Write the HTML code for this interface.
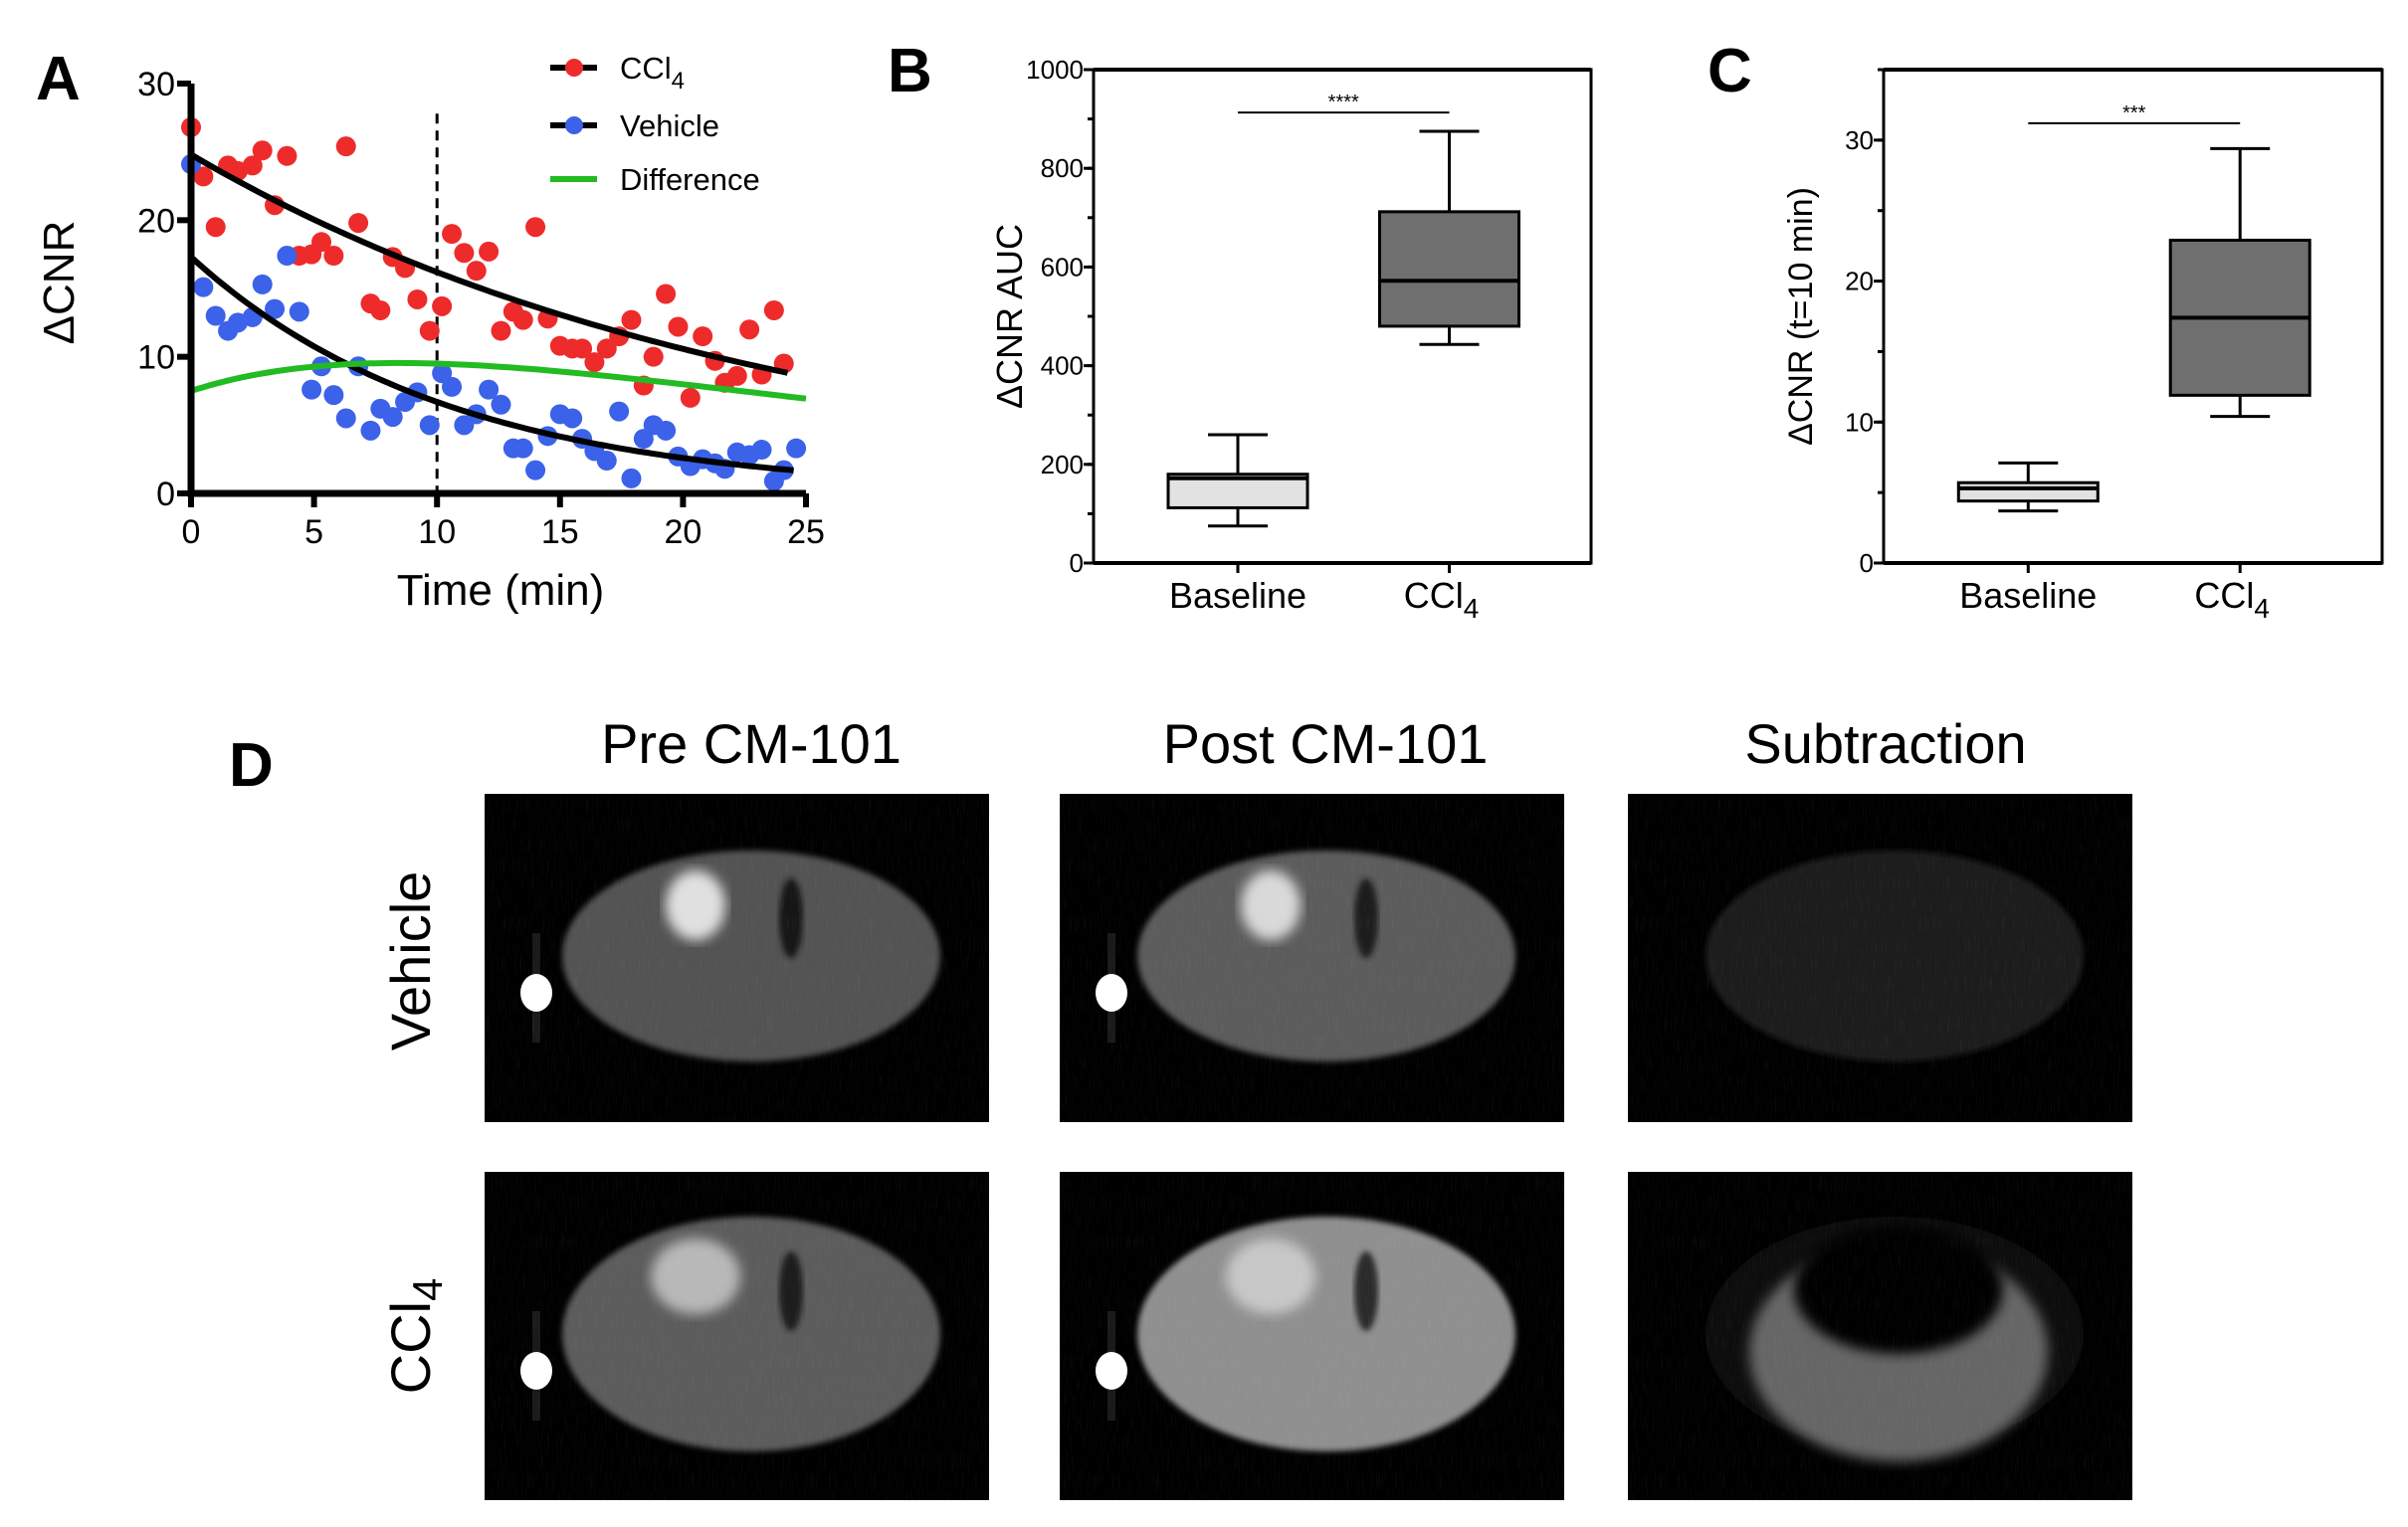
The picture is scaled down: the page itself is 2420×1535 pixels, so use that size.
<!DOCTYPE html>
<html><head><meta charset="utf-8">
<style>
html,body{margin:0;padding:0;background:#fff;}
svg{display:block;font-family:"Liberation Sans",Arial,sans-serif;}
</style></head>
<body>
<svg id="fig" width="2420" height="1535" viewBox="0 0 2420 1535" xmlns="http://www.w3.org/2000/svg">
<defs>
<filter id="blur6"><feGaussianBlur stdDeviation="6"/></filter>
<filter id="blur3"><feGaussianBlur stdDeviation="3"/></filter>
<filter id="noise" x="0" y="0" width="100%" height="100%">
<feTurbulence type="fractalNoise" baseFrequency="0.9 0.05" numOctaves="2" seed="3"/>
<feColorMatrix type="matrix" values="0 0 0 0 1  0 0 0 0 1  0 0 0 0 1  0 0 0 0.5 -0.25"/>
</filter>
</defs>
<g id="panelA"></g>
<g id="panelB"></g>
<g id="panelC"></g>
<g id="panelD"></g>
</svg>
<script>
// ---- Panel A data ----
const timesRed = [0,0.5,1,1.5,1.9,2.5,2.9,3.4,3.9,4.4,4.9,5.3,5.8,6.3,6.8,7.3,7.7,8.2,8.7,9.2,9.7,10.2,10.6,11.1,11.6,12.1,12.6,13.1,13.5,14.0,14.5,15.0,15.5,15.9,16.4,16.9,17.4,17.9,18.4,18.8,19.3,19.8,20.3,20.8,21.3,21.7,22.2,22.7,23.2,23.7,24.1];
const valuesRed = [26.8,23.2,19.5,24.0,23.6,24.0,25.1,21.1,24.7,17.4,17.5,18.4,17.4,25.4,19.8,13.9,13.4,17.3,16.5,14.2,11.9,13.7,19.0,17.6,16.3,17.7,11.9,13.3,12.7,19.5,12.8,10.8,10.6,10.6,9.6,10.6,11.5,12.7,7.9,10.0,14.6,12.2,7.0,11.5,9.7,8.1,8.6,12.0,8.7,13.4,9.5];
const timesBlue = [0,0.5,1,1.5,1.9,2.5,2.9,3.4,3.9,4.4,4.9,5.3,5.8,6.3,6.8,7.3,7.7,8.2,8.7,9.2,9.7,10.2,10.6,11.1,11.6,12.1,12.6,13.1,13.5,14.0,14.5,15.0,15.5,15.9,16.4,16.9,17.4,17.9,18.4,18.8,19.3,19.8,20.3,20.8,21.3,21.7,22.2,22.7,23.2,23.7,24.1,24.6];
const valuesBlue = [24.1,15.1,13.0,11.9,12.5,12.9,15.3,13.5,17.4,13.3,7.6,9.3,7.2,5.5,9.3,4.6,6.2,5.6,6.7,7.4,5.0,8.8,7.8,5.0,5.8,7.6,6.5,3.3,3.3,1.7,4.2,5.8,5.5,4.0,3.1,2.4,6.0,1.1,4.0,5.0,4.6,2.7,2.0,2.5,2.2,1.8,3.0,2.8,3.2,0.9,1.7,3.3];
const fitAmp = [24.8, 17.3];      // CCl4, Vehicle
const fitRate = [0.0426, 0.0949];
const fitEnd = [24.4, 24.5];
const xTicksA = [0,5,10,15,20,25];
const yTicksA = [0,10,20,30];
const dashedT = [10];

// ---- Panel B data ----
const catsB = ["Baseline","CCl4"];
const whiskLoB = [75, 443], q1B = [112, 480], medB = [172, 572], q3B = [180, 712], whiskHiB = [260, 875];
const yTicksB = [0,200,400,600,800,1000];
const sigB = [913];
// ---- Panel C data ----
const whiskLoC = [3.7, 10.4], q1C = [4.4, 11.9], medC = [5.3, 17.4], q3C = [5.7, 22.9], whiskHiC = [7.1, 29.4];
const yTicksC = [0,10,20,30];
const sigC = [31.2];

const NS = "http://www.w3.org/2000/svg";
function mk(parent, tag, attrs, text){
  const e = document.createElementNS(NS, tag);
  for (const k in attrs) e.setAttribute(k, attrs[k]);
  if (text !== undefined) e.textContent = text;
  parent.appendChild(e); return e;
}

// ===== Panel A =====
(function(){
  const g = document.getElementById('panelA');
  const X = t => 192 + t/25*(810-192);
  const Y = v => 496 - v/30*(496-84);
  let d = mk(g,'line',{x1:X(dashedT[0]),x2:X(dashedT[0]),y1:Y(27.8),y2:Y(0),stroke:'#000','stroke-width':3,'stroke-dasharray':'10,7'});
  
  
  const fit = (i,t) => fitAmp[i]*Math.exp(-fitRate[i]*t);
  function curve(fn, t1, color, name){
    let p = '';
    for (let t=0; t<=t1+1e-9; t+=0.25){ p += (p?'L':'M') + X(t).toFixed(1)+','+Y(fn(t)).toFixed(1); }
    const e = mk(g,'path',{d:p,fill:'none',stroke:color,'stroke-width':6});
    
    
    return e;
  }
  const rp = mk(g,'g',{});
  
  
  timesRed.forEach((t,i)=>{
    const c = mk(rp,'circle',{cx:X(t),cy:Y(valuesRed[i]),r:10,fill:'#ee2b2b'});
    
    
  });
  const bp = mk(g,'g',{});
  
  
  timesBlue.forEach((t,i)=>{
    const c = mk(bp,'circle',{cx:X(t),cy:Y(valuesBlue[i]),r:10,fill:'#3b62e8'});
    
    
  });
  curve(t=>fit(0,t), fitEnd[0], '#000', 'ccl4-fit-curve');
  curve(t=>fit(1,t), fitEnd[1], '#000', 'vehicle-fit-curve');
  curve(t=>fit(0,t)-fit(1,t), 25, '#22bb22', 'difference-curve');
  let ax = mk(g,'path',{d:`M${X(0)},${Y(30)}V${Y(0)}H${X(25)}`,fill:'none',stroke:'#000','stroke-width':7});
  
  
  yTicksA.forEach(v=>{
    mk(g,'line',{x1:X(0)-14,x2:X(0),y1:Y(v),y2:Y(v),stroke:'#000','stroke-width':6});
    const t = mk(g,'text',{x:X(0)-16,y:Y(v)+12,'font-size':34,'text-anchor':'end'},String(v));
    
    
  });
  xTicksA.forEach(v=>{
    mk(g,'line',{x1:X(v),x2:X(v),y1:Y(0),y2:Y(0)+14,stroke:'#000','stroke-width':6});
    const t = mk(g,'text',{x:X(v),y:Y(0)+50,'font-size':34,'text-anchor':'middle'},String(v));
    
    
  });
})();
</script>
<script>
// ===== Panels B and C =====
function boxPanel(gid, x0, x1, y0, y1, ymax, ticks, minorStep, lo,q1,med,q3,hi, sig, stars, yTitle, fs){
  const g = document.getElementById(gid);
  const Y = v => y1 - v/ymax*(y1-y0);
  const cx = [x0 + (x1-x0)*0.29, x0 + (x1-x0)*0.715];
  const fills = ['#e2e2e2','#6f6f6f'];
  mk(g,'rect',{x:x0,y:y0,width:x1-x0,height:y1-y0,fill:'none',stroke:'#000','stroke-width':3});
  mk(g,'line',{x1:x0,x2:x1,y1:y0,y2:y0,stroke:'#000','stroke-width':4});
  mk(g,'line',{x1:x0,x2:x1,y1:y1,y2:y1,stroke:'#000','stroke-width':4});
  for (let v=0; v<=ymax+1e-9; v+=minorStep){
    mk(g,'line',{x1:x0-6,x2:x0,y1:Y(v),y2:Y(v),stroke:'#000','stroke-width':3});
  }
  ticks.forEach(v=>{
    mk(g,'line',{x1:x0-10,x2:x0,y1:Y(v),y2:Y(v),stroke:'#000','stroke-width':3});
    const t = mk(g,'text',{x:x0-10,y:Y(v)+9,'font-size':26,'text-anchor':'end'},String(v));
    
    
  });
  [0,1].forEach(i=>{
    const c = cx[i], hw = 70;
    mk(g,'line',{x1:c,x2:c,y1:Y(hi[i]),y2:Y(lo[i]),stroke:'#000','stroke-width':3});
    mk(g,'line',{x1:c-30,x2:c+30,y1:Y(hi[i]),y2:Y(hi[i]),stroke:'#000','stroke-width':3});
    mk(g,'line',{x1:c-30,x2:c+30,y1:Y(lo[i]),y2:Y(lo[i]),stroke:'#000','stroke-width':3});
    const r = mk(g,'rect',{x:c-hw,y:Y(q3[i]),width:2*hw,height:Y(q1[i])-Y(q3[i]),fill:fills[i],stroke:'#000','stroke-width':3});
    
    
    mk(g,'line',{x1:c-hw,x2:c+hw,y1:Y(med[i]),y2:Y(med[i]),stroke:'#000','stroke-width':4});
    mk(g,'line',{x1:c,x2:c,y1:y1,y2:y1+10,stroke:'#000','stroke-width':3});
  });
  const t1 = mk(g,'text',{x:cx[0],y:y1+45,'font-size':36,'text-anchor':'middle'},'Baseline');
  
  
  const t2 = mk(g,'text',{x:cx[1]-8,y:y1+45,'font-size':36,'text-anchor':'middle'});
  
  
  t2.innerHTML = 'CCl<tspan dy="10" font-size="28">4</tspan>';
  const s = mk(g,'line',{x1:cx[0],x2:cx[1],y1:Y(sig[0]),y2:Y(sig[0]),stroke:'#000','stroke-width':2});
  
  
  mk(g,'text',{x:(cx[0]+cx[1])/2,y:Y(sig[0])-4,'font-size':20,'text-anchor':'middle'},stars);
  const yt = mk(g,'text',{x:0,y:0,'font-size':fs,'text-anchor':'middle',transform:`translate(${x0-72},${(y0+y1)/2}) rotate(-90)`},yTitle);
  
  
}
boxPanel('panelB',1099,1599,70,566,1000,yTicksB,100,whiskLoB,q1B,medB,q3B,whiskHiB,sigB,'****','ΔCNR AUC',36);
boxPanel('panelC',1893,2394,70,566,35,yTicksC,5,whiskLoC,q1C,medC,q3C,whiskHiC,sigC,'***','ΔCNR (t=10 min)',34);

// ===== Panel D images =====
(function(){
  const g = document.getElementById('panelD');
  const cols = [487,1065,1636], rows = [798,1178], W = 507, H = 330;
  const cfg = [
    [[0.32,0.88,1],[0.36,0.85,1],[0.11,0,0]],
    [[0.36,0.72,1],[0.56,0.78,1],[0.06,0,0]]
  ];
  rows.forEach((ry,ri)=>cols.forEach((cxp,ci)=>{
    const im = mk(g,'g',{});
    
    
    mk(im,'rect',{x:cxp,y:ry,width:W,height:H,fill:'#000'});
    const [b,sp,mark] = cfg[ri][ci];
    const gv = v => { const c = Math.round(255*Math.min(1,v)); return `rgb(${c},${c},${c})`; };
    const ex = cxp+268, ey = ry+163;
    if (ri===1 && ci===2){
      mk(im,'ellipse',{cx:ex,cy:ey,rx:190,ry:118,fill:gv(0.06),filter:'url(#blur6)'});
      mk(im,'ellipse',{cx:ex+4,cy:ey+18,rx:150,ry:110,fill:gv(0.4),filter:'url(#blur6)'});
      mk(im,'ellipse',{cx:ex+4,cy:ey-45,rx:105,ry:65,fill:'#000',filter:'url(#blur6)'});
    } else {
      mk(im,'ellipse',{cx:ex,cy:ey,rx:190,ry:ri?118:106,fill:gv(b),filter:'url(#blur3)'});
      if (sp>0){
        mk(im,'ellipse',{cx:cxp+212,cy:ry+(ri?105:112),rx:ri?45:30,ry:ri?38:35,fill:gv(sp),filter:'url(#blur6)'});
        mk(im,'ellipse',{cx:cxp+308,cy:ry+(ri?120:125),rx:12,ry:40,fill:gv(b*0.3),filter:'url(#blur3)'});
      }
    }
    if (mark){
      mk(im,'rect',{x:cxp+48,y:ry+140,width:8,height:110,fill:'#1a1a1a'});
      mk(im,'ellipse',{cx:cxp+52,cy:ry+200,rx:16,ry:19,fill:'#fff'});
    }
    mk(im,'rect',{x:cxp,y:ry,width:W,height:H,fill:'#fff',filter:'url(#noise)',opacity:0.25});
  }));
})();
</script>
<script>
(function(){
  const svg = document.getElementById('fig');
  function txt(x,y,s,size,attrs,name,html){
    const t = mk(svg,'text',Object.assign({x:x,y:y,'font-size':size},attrs||{}));
    if (html) t.innerHTML = s; else t.textContent = s;
    
    
    return t;
  }
  txt(36,100,'A',62,{'font-weight':'bold'},'panel-label-a');
  txt(892,92,'B',62,{'font-weight':'bold'},'panel-label-b');
  txt(1716,92,'C',62,{'font-weight':'bold'},'panel-label-c');
  txt(230,790,'D',62,{'font-weight':'bold'},'panel-label-d');
  txt(0,0,'ΔCNR',44,{'text-anchor':'middle',transform:'translate(74,284) rotate(-90)'},'y-axis-title-a');
  txt(503,608,'Time (min)',44,{'text-anchor':'middle'},'x-axis-title-a');
  const leg = [['#ee2b2b','#000','CCl<tspan dy="10" font-size="24">4</tspan>',68],['#3b62e8','#000','Vehicle',126],['','#22bb22','Difference',180]];
  leg.forEach(([dot,line,label,y])=>{
    const l = mk(svg,'line',{x1:553,x2:600,y1:y,y2:y,stroke:line,'stroke-width':6});
    
    
    if (dot) mk(svg,'circle',{cx:577,cy:y,r:9,fill:dot});
    txt(623,y+11,label,31,{},'legend-entry',true);
  });
  txt(755,767,'Pre CM-101',56,{'text-anchor':'middle'},'column-title-pre');
  txt(1332,767,'Post CM-101',56,{'text-anchor':'middle'},'column-title-post');
  txt(1895,767,'Subtraction',56,{'text-anchor':'middle'},'column-title-subtraction');
  txt(0,0,'Vehicle',56,{'text-anchor':'middle',transform:'translate(432,966) rotate(-90)'},'row-label-vehicle');
  txt(0,0,'CCl<tspan dy="12" font-size="42">4</tspan>',56,{'text-anchor':'middle',transform:'translate(432,1343) rotate(-90)'},'row-label-ccl4',true);
})();
</script>
</body></html>
